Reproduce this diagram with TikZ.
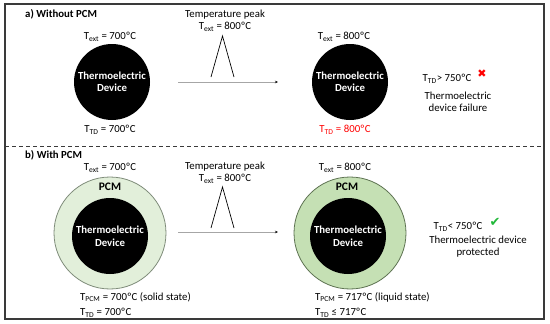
\documentclass[tikz,border=0pt]{standalone}
\usepackage{fontspec}
\setmainfont{Carlito}
\newfontfamily\symfont{DejaVu Sans}
\usetikzlibrary{arrows.meta}
\definecolor{frame}{HTML}{3A3A3A}
\definecolor{pcmlight}{HTML}{E2EFDA}
\definecolor{pcmlightb}{HTML}{7F8C7A}
\definecolor{pcmdark}{HTML}{C5E0B4}
\definecolor{pcmdarkb}{HTML}{5E7352}
\definecolor{okgreen}{HTML}{22B83A}
\newcommand{\Tsub}[1]{T\textsubscript{#1}}
\tikzset{
  txt/.style={font=\fontsize{10.8}{12}\selectfont, inner sep=0pt, align=center},
  head/.style={font=\bfseries\fontsize{10.8}{12}\selectfont, inner sep=0pt, anchor=west},
  device/.style={circle, fill=black, minimum size=76pt, inner sep=0pt, text=white,
     font=\bfseries\fontsize{10.8}{12.5}\selectfont, align=center},
  pcmring/.style={circle, minimum size=112pt, inner sep=0pt, line width=0.8pt},
  peakline/.style={draw=black, line width=0.7pt},
  timearrow/.style={draw=gray!70, line width=0.6pt, -{Stealth[length=3pt,width=2.5pt,black]}}
}
\begin{document}
\begin{tikzpicture}[x=1pt,y=-1pt]
\useasboundingbox (0,0) rectangle (550,324);
% frame and separator
\draw[frame, line width=1.4pt] (5,4) rectangle (544,319);
\draw[frame, line width=0.9pt, dash pattern=on 4pt off 3pt] (5,146) -- (544,146);

% ---------- a) Without PCM ----------
\node[head] (ha) at (25,14) {a) Without PCM};
\node[device] (d1) at (112,82) {Thermoelectric\\Device};
\node[txt] (d1ext) at (110,37) {\Tsub{ext} = 700ºC};
\node[txt] (d1td) at (110,130) {\Tsub{TD} = 700ºC};

\node[txt] (pk1) at (225,21) {Temperature peak\\\Tsub{ext} = 800ºC};
\coordinate (p1a) at (211,77);
\coordinate (p1b) at (222.5,36);
\coordinate (p1c) at (234,77);
\draw[peakline] (p1a) -- (p1b) -- (p1c);
\coordinate (a1s) at (178,82);
\coordinate (a1e) at (278,82);
\draw[timearrow] (a1s) -- (a1e);

\node[device] (d2) at (350,82) {Thermoelectric\\Device};
\node[txt] (d2ext) at (344,37) {\Tsub{ext} = 800ºC};
\node[txt, text=red] (d2td) at (345,130) {\Tsub{TD} = 800ºC};

\node[txt] (res1) at (447,79) {\Tsub{TD}> 750ºC};
\node[inner sep=0pt, text=red, font=\symfont\fontsize{11}{12}\selectfont] (x1) at (482,74) {✖};
\node[txt] (res1b) at (458,102) {Thermoelectric\\device failure};

% ---------- b) With PCM ----------
\node[head] (hb) at (25,155) {b) With PCM};
\node[pcmring, fill=pcmlight, draw=pcmlightb] (r3) at (110,233) {};
\node[device] (d3) at (110,236) {Thermoelectric\\Device};
\node[txt, font=\bfseries\fontsize{11.5}{12}\selectfont] (pcm3) at (110,187) {PCM};
\node[txt] (d3ext) at (110,168) {\Tsub{ext} = 700ºC};
\node[txt, anchor=west] (d3pcm) at (80,297) {\Tsub{PCM} = 700ºC (solid state)};
\node[txt, anchor=west] (d3td) at (80,313) {\Tsub{TD} = 700ºC};

\node[txt] (pk2) at (225,173) {Temperature peak\\\Tsub{ext} = 800ºC};
\coordinate (p2a) at (211,228);
\coordinate (p2b) at (222.5,187);
\coordinate (p2c) at (234,228);
\draw[peakline] (p2a) -- (p2b) -- (p2c);
\coordinate (a2s) at (178,232);
\coordinate (a2e) at (278,232);
\draw[timearrow] (a2s) -- (a2e);

\node[pcmring, fill=pcmdark, draw=pcmdarkb] (r4) at (350,233) {};
\node[device] (d4) at (348,236) {Thermoelectric\\Device};
\node[txt, font=\bfseries\fontsize{11.5}{12}\selectfont] (pcm4) at (347,187) {PCM};
\node[txt] (d4ext) at (345,168) {\Tsub{ext} = 800ºC};
\node[txt, anchor=west] (d4pcm) at (315,297) {\Tsub{PCM} = 717ºC (liquid state)};
\node[txt, anchor=west] (d4td) at (315,313) {\Tsub{TD} ≤ 717ºC};

\node[txt] (res2) at (458,227) {\Tsub{TD}< 750ºC};
\node[inner sep=0pt, text=okgreen, font=\symfont\fontsize{13}{14}\selectfont] (c2) at (495,222) {✔};
\node[txt] (res2b) at (478,246.5) {Thermoelectric device\\protected};
\end{tikzpicture}
\end{document}
